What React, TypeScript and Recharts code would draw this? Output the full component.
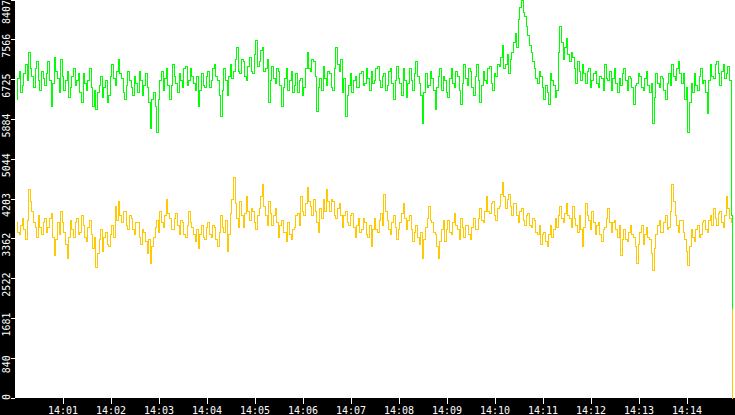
import { CartesianGrid, Line, LineChart, XAxis, YAxis } from 'recharts';

// samples every 2 s starting at 14:00:02
const START_SEC = 2;
const STEP_SEC = 2;

const GREEN = [
  6300, 6750, 6900, 6450, 6600, 6850, 7050, 6700, 7300, 6950, 6800, 6550, 6950, 7100, 6700, 6500,
  6900, 6750, 6600, 6850, 7100, 6700, 6150, 6650, 7200, 6900, 6750, 6450, 7150, 6800, 6500, 6700,
  6900, 6350, 6550, 6800, 6950, 6600, 6700, 6850, 6450, 6250, 6850, 6650, 6500, 6700, 6950, 6550,
  6150, 6500, 6100, 6450, 6600, 6800, 6350, 6550, 6700, 6250, 6400, 6800, 7050, 6750, 6600, 6900,
  7150, 6850, 6750, 6450, 6300, 6600, 6900, 6700, 6550, 6400, 6800, 6650, 6450, 6900, 6700, 6400,
  6600, 6850, 6550, 6250, 5700, 6300, 6450, 6150, 5600, 6300, 6700, 6900, 6500, 6750, 6950, 6600,
  6300, 6600, 7050, 6800, 6650, 6450, 6850, 6700, 6550, 6950, 7000, 6600, 6700, 6950, 6800, 6650,

  6500, 6800, 6150, 6500, 6850, 6600, 6550, 6800, 6900, 6550, 6700, 6950, 7050, 6800, 6700, 6400,
  5950, 6500, 6950, 6700, 6400, 6800, 7050, 6750, 6900, 7150, 7400, 6900, 6850, 7150, 7100, 6800,
  6700, 7000, 7200, 6900, 6850, 7250, 7550, 7000, 7100, 7350, 7400, 6900, 6950, 7150, 6250, 6700,
  7000, 6750, 6650, 6950, 6900, 6600, 6150, 6550, 6750, 6950, 6500, 6700, 6900, 6450, 6600, 6850,
  6450, 6700, 6750, 6400, 6550, 6950, 7300, 6950, 6900, 7150, 7100, 6800, 6050, 6550, 6750, 6500,
  7000, 6750, 6600, 6900, 6850, 6550, 6500, 6950, 7400, 7050, 6900, 7150, 6450, 6750, 5950, 6400,
  6600, 6850, 6450, 6700, 6800, 6550, 6550, 6850, 6900, 6600, 6650, 6950, 6750, 6500, 6900, 6650,

  6700, 6950, 7000, 6700, 6550, 6800, 6850, 6500, 6600, 6900, 6950, 6650, 6300, 6700, 7000, 6750,
  6650, 6400, 6950, 6700, 6350, 6650, 6950, 6700, 6500, 6850, 7100, 6800, 6650, 6400, 5800, 6450,
  6850, 6550, 6600, 6900, 6750, 6500, 6100, 6550, 6800, 6950, 6500, 6800, 6700, 6450, 6350, 6750,
  6950, 6650, 6550, 6900, 6800, 6500, 6200, 6650, 7050, 6750, 6600, 6950, 6900, 6550, 6400, 6800,
  7050, 6700, 6250, 6600, 6900, 6700, 6650, 6950, 7000, 6650, 6500, 6850, 6800, 7050, 7000, 7200,
  7450, 6950, 7050, 7250, 6850, 7150, 7300, 7500, 7700, 7400, 8000, 8250, 8400, 8150, 8050, 7850,
  7650, 7450, 7300, 7100, 6950, 6750, 6650, 6900, 6800, 6550, 6300, 6600, 6450, 6200, 6850, 6700,
  6600, 6350,

  6500, 7300, 7850, 7500, 7150, 7400, 7600, 7250, 7100, 7300, 7200, 6950, 6650, 7100, 6900, 6700,
  7050, 6850, 6650, 6900, 6950, 6550, 6700, 6850, 6900, 6650, 6550, 6800, 6750, 6500, 7050, 6750,
  6700, 6900, 6500, 6750, 6950, 6650, 6450, 6750, 6600, 6850, 6950, 6700, 6500, 6800, 6750, 6550,
  6200, 6600, 6650, 6850, 6800, 6550, 6500, 6750, 6900, 6600, 6450, 6650, 5800, 6350, 6850, 6650,
  6550, 6800, 6750, 6500, 6300, 6650, 6850, 6600, 7050, 6800, 6700, 6950, 7100, 6850, 6650, 6850,
  6300, 6550, 5600, 6250, 6650, 6450, 6850, 6600, 6500, 6800, 6950, 6650, 6700, 6450, 6000, 6700,
  7050, 6800, 6750, 7050, 7100, 6850, 6600, 6900, 7050, 6750, 6850, 7000, 6700, 3850,
  1900,
];

const YELLOW = [
  3700, 3500, 3450, 3650, 3800, 3550, 3350, 3750, 4400, 4150, 3950, 3700, 3600, 3400, 3850, 3600,
  3450, 3700, 3800, 3500, 3600, 3800, 3900, 3400, 3000, 3350, 3700, 3450, 3950, 3700, 3500, 3250,
  2950, 3400, 3750, 3550, 3400, 3700, 3800, 3450, 3500, 3850, 3650, 3400, 3300, 3600, 3750, 3450,
  3150, 3400, 2750, 3050, 3350, 3550, 3100, 3400, 3500, 3250, 3200, 3450, 3650, 3400, 4050, 3750,
  4150, 3850, 3700, 3950, 3950, 3650, 3550, 3850, 3800, 3550, 3450, 3700, 3700, 3400, 3250, 3550,
  3500, 3300, 3050, 3350, 2850, 3200, 3400, 3600, 3750, 3500, 3950, 3700, 3600, 3850, 4200, 3900,
  3800, 3550, 3550, 3800, 3900, 3650, 3450, 3750, 3700, 3450, 3400, 3650, 3950, 3700, 3600, 3450,

  3300, 3550, 3150, 3450, 3650, 3400, 3350, 3600, 3700, 3450, 3400, 3650, 3600, 3350, 3200, 3500,
  3850, 3600, 3500, 3750, 3100, 3450, 3900, 4200, 4650, 4100, 3800, 3600, 4150, 3850, 3600, 3900,
  4250, 3950, 3750, 4000, 3950, 3700, 3550, 3850, 4000, 4250, 4500, 4050, 3850, 3650, 4150, 3900,
  3650, 3850, 4000, 3700, 3400, 3650, 3750, 3500, 3500, 3300, 3700, 3450, 3350, 3550, 3600, 3850,
  3900, 3650, 4250, 3950, 3850, 4100, 4450, 4150, 4050, 3850, 4200, 3950, 3700, 3500, 4000, 3800,
  4200, 3950, 4400, 4150, 3950, 4200, 4150, 3850, 3800, 4000, 4100, 3850, 3600, 3850, 3950, 3700,
  3650, 3850, 3900, 3600, 3400, 3650, 3800, 3500, 3550, 3800, 3700, 3450, 3400, 3650, 3200, 3550,

  3800, 3550, 3500, 3750, 3900, 3650, 4300, 3950, 3750, 3550, 3450, 3700, 3850, 3600, 3350, 3550,
  3700, 3900, 4100, 3800, 3550, 3750, 3850, 3550, 3300, 3500, 3650, 3400, 3250, 3500, 2950, 3350,
  3600, 3800, 4050, 3750, 3700, 3500, 3450, 3200, 2950, 3300, 3550, 3750, 3300, 3550, 3750, 3500,
  3450, 3700, 3900, 3650, 3550, 3350, 3800, 3600, 3400, 3650, 3650, 3450, 3350, 3600, 3800, 3550,
  3550, 3800, 4000, 3750, 3700, 3950, 4250, 3950, 3900, 4100, 4150, 3850, 3750, 4000, 4050, 4300,
  4550, 4250, 4000, 4200, 4300, 4050, 3850, 4100, 4100, 3850, 3700, 3950, 4000, 3750, 3650, 3850,
  3900, 3650, 3600, 3800, 3750, 3500, 3450, 3650, 3250, 3450, 3500, 3300, 3200, 3450, 3650, 3400,
  3550, 3800,

  3600, 3850, 4050, 3800, 3700, 3900, 4100, 3850, 3800, 3600, 4050, 3800, 3650, 3500, 3850, 3550,
  3200, 3600, 4100, 3850, 3750, 3550, 3950, 3700, 3450, 3650, 3700, 3450, 3300, 3550, 3600, 3800,
  4000, 3700, 3500, 3700, 3750, 3550, 3400, 3650, 3000, 3350, 3550, 3350, 3300, 3500, 3650, 3450,
  3400, 3200, 2850, 3250, 3500, 3650, 3250, 3450, 3600, 3400, 3350, 3050, 2700, 3150, 3450, 3650,
  3750, 3500, 3500, 3700, 3850, 3550, 3600, 3950, 4500, 4150, 3850, 3650, 3500, 3750, 3750, 3500,
  3350, 3100, 2800, 3200, 3550, 3400, 3300, 3550, 3650, 3400, 3450, 3700, 3750, 3550, 3500, 3750,
  3850, 3650, 4000, 3800, 3650, 3900, 3950, 3700, 3600, 3850, 4250, 4000, 3800, 3700,
  0,
];

const Y_MAX = 8407.05;
const Y_LABELS = ['0', '840', '1681', '2522', '3362', '4203', '5044', '5884', '6725', '7566', '8407'];
const X_LABELS = [
  '14:01', '14:02', '14:03', '14:04', '14:05', '14:06', '14:07',
  '14:08', '14:09', '14:10', '14:11', '14:12', '14:13', '14:14',
];

const Y_TICKS = Y_LABELS.map((_, i) => (Y_MAX * i) / 10);
const X_TICKS = X_LABELS.map((_, i) => (i + 1) * 60);

const data = GREEN.map((g, i) => ({ t: START_SEC + STEP_SEC * i, g, y: YELLOW[i] }));

const FONT = '"DejaVu Sans Mono", monospace';
const W = 735;
const H = 415;
const PLOT_BOTTOM = 398;

function YTick(props: any) {
  const { x, y, payload } = props;
  const label = Y_LABELS[Y_TICKS.indexOf(payload.value)] ?? '';
  const half = label.length * 3;
  const cy = Math.min(Math.max(y + 6, half), PLOT_BOTTOM + 2 - half);
  return (
    <g>
      <line x1={x - 4} x2={x} y1={y} y2={y} stroke="#fff" shapeRendering="crispEdges" />
      <text
        transform={`translate(${x - 5.5},${cy}) rotate(-90)`}
        textAnchor="middle"
        fill="#fff"
        fontSize={10}
        fontFamily={FONT}
      >
        {label}
      </text>
    </g>
  );
}

function XTick(props: any) {
  const { x, y, payload } = props;
  const label = X_LABELS[X_TICKS.indexOf(payload.value)] ?? '';
  return (
    <g>
      <line x1={x} x2={x} y1={y} y2={y + 6} stroke="#fff" shapeRendering="crispEdges" />
      <text x={x} y={y + 16} textAnchor="middle" fill="#fff" fontSize={10} fontFamily={FONT}>
        {label}
      </text>
    </g>
  );
}

export default function App() {
  return (
    <div style={{ position: 'absolute', left: 0, top: 0, width: W, height: H, background: '#000' }}>
      <LineChart width={W} height={H} data={data} margin={{ top: 0, right: 0, bottom: 0, left: 0 }}>
        <CartesianGrid horizontal={false} vertical={false} fill="#fff" />
        <XAxis
          type="number"
          dataKey="t"
          domain={[0, 900]}
          ticks={X_TICKS}
          interval={0}
          height={17}
          axisLine={false}
          tickLine={false}
          tickSize={0}
          tickMargin={0}
          tick={<XTick />}
        />
        <YAxis
          type="number"
          domain={[0, Y_MAX]}
          ticks={Y_TICKS}
          interval={0}
          width={15}
          axisLine={false}
          tickLine={false}
          tickSize={0}
          tickMargin={0}
          tick={<YTick />}
        />
        <Line
          type="step"
          dataKey="y"
          stroke="#ffc800"
          strokeWidth={1}
          dot={false}
          activeDot={false}
          isAnimationActive={false}
          shapeRendering="crispEdges"
        />
        <Line
          type="step"
          dataKey="g"
          stroke="#00ff00"
          strokeWidth={1}
          dot={false}
          activeDot={false}
          isAnimationActive={false}
          shapeRendering="crispEdges"
        />
      </LineChart>
    </div>
  );
}
